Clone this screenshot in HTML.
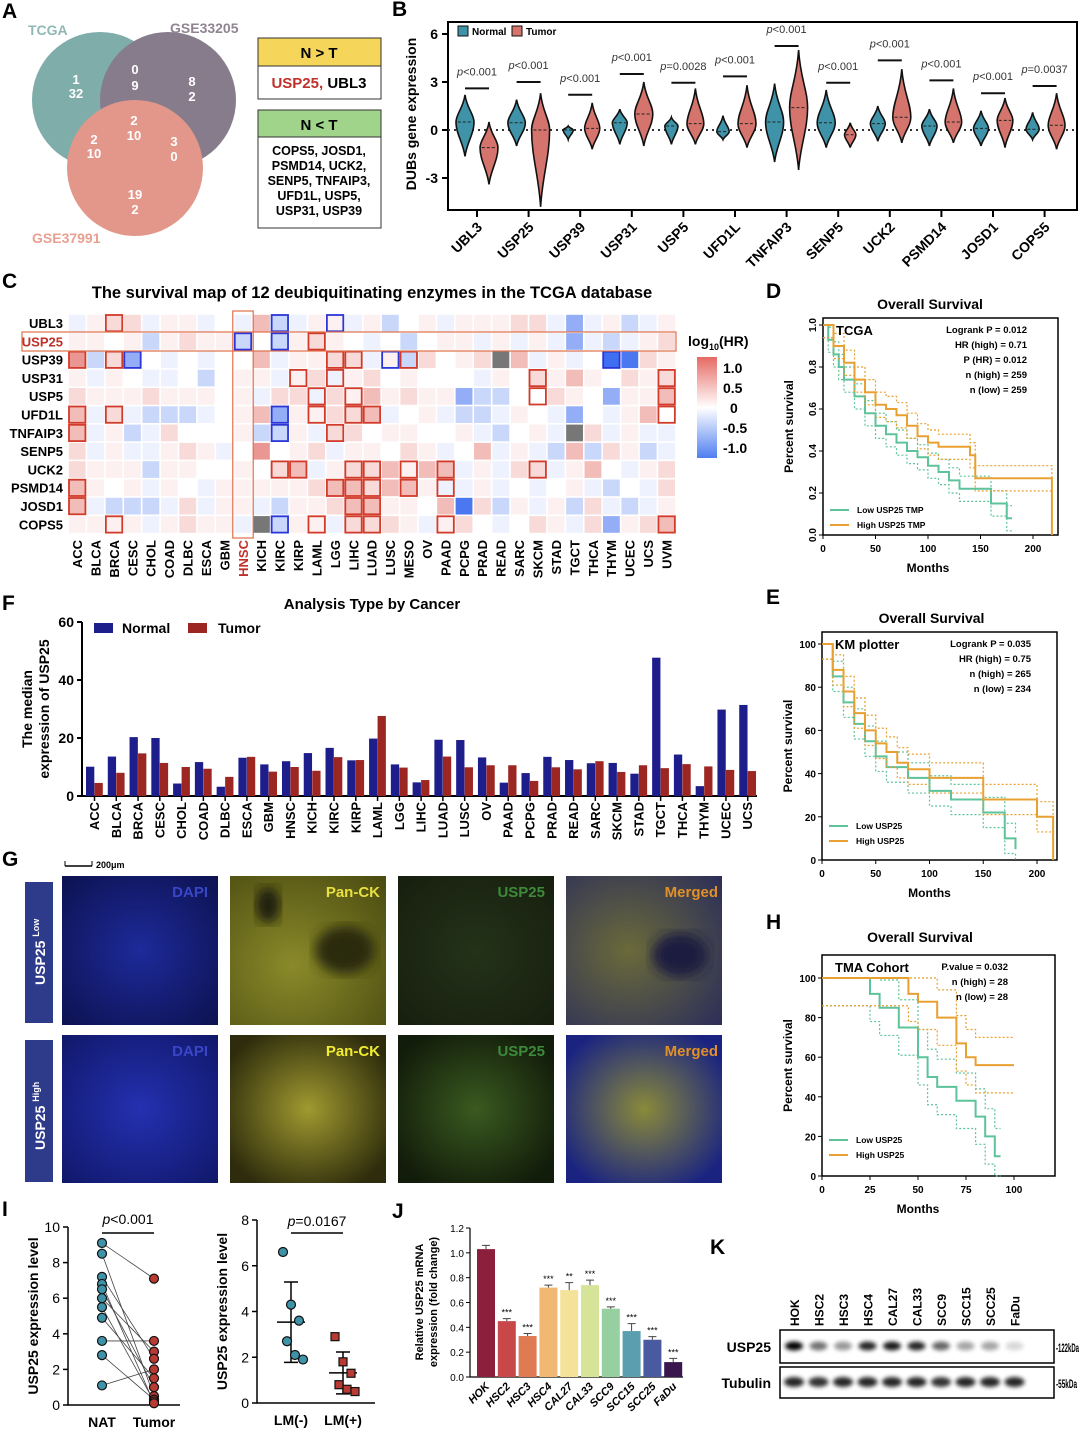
<!DOCTYPE html>
<html><head><meta charset="utf-8"><style>
body{margin:0;background:#fff}
svg{display:block;font-family:"Liberation Sans",Arial,sans-serif}
.pl{font-size:21px;font-weight:bold}
</style></head><body>
<svg id="s" width="1080" height="1429" viewBox="0 0 1080 1429" xmlns="http://www.w3.org/2000/svg">
<defs>
<filter id="bl" x="-50%" y="-50%" width="200%" height="200%"><feGaussianBlur stdDeviation="2.2"/></filter>
<filter id="bl2"><feGaussianBlur stdDeviation="6"/></filter>
<linearGradient id="cbar" x1="0" y1="0" x2="0" y2="1"><stop offset="0" stop-color="#e66a64"/><stop offset="0.5" stop-color="#ffffff"/><stop offset="1" stop-color="#4f7ff0"/></linearGradient>
<radialGradient id="gdapi1" cx="0.5" cy="0.5" r="0.7"><stop offset="0" stop-color="#1d2a9a"/><stop offset="1" stop-color="#0d1250"/></radialGradient>
<radialGradient id="gck1" cx="0.4" cy="0.6" r="0.8"><stop offset="0" stop-color="#8a8a2a"/><stop offset="1" stop-color="#4d4d12"/></radialGradient>
<radialGradient id="gus1" cx="0.5" cy="0.5" r="0.8"><stop offset="0" stop-color="#24321a"/><stop offset="1" stop-color="#141c0c"/></radialGradient>
<radialGradient id="gm1" cx="0.4" cy="0.5" r="0.8"><stop offset="0" stop-color="#6a6a3a"/><stop offset="1" stop-color="#2a2c5a"/></radialGradient>
<radialGradient id="gdapi2" cx="0.5" cy="0.5" r="0.7"><stop offset="0" stop-color="#2430b0"/><stop offset="1" stop-color="#10186a"/></radialGradient>
<radialGradient id="gck2" cx="0.5" cy="0.5" r="0.6"><stop offset="0" stop-color="#a09a30"/><stop offset="1" stop-color="#2e2c0c"/></radialGradient>
<radialGradient id="gus2" cx="0.5" cy="0.5" r="0.6"><stop offset="0" stop-color="#3a5a20"/><stop offset="1" stop-color="#121c0a"/></radialGradient>
<radialGradient id="gm2" cx="0.5" cy="0.5" r="0.6"><stop offset="0" stop-color="#8a8a3a"/><stop offset="1" stop-color="#1a2480"/></radialGradient>
</defs>

<!-- Panel A -->
<text class="pl" x="2" y="18">A</text>
<g opacity="0.72">
<circle cx="100" cy="100" r="68" fill="#4f8e8a"/>
<circle cx="168" cy="100" r="68" fill="#5a4a60"/>
<circle cx="135" cy="168" r="68" fill="#d9705f"/>
</g>
<g font-size="13" font-weight="bold" fill="#fff" text-anchor="middle">
<text x="76" y="84">1</text><text x="76" y="98">32</text>
<text x="135" y="74">0</text><text x="135" y="90">9</text>
<text x="192" y="86">8</text><text x="192" y="101">2</text>
<text x="94" y="144">2</text><text x="94" y="158">10</text>
<text x="134" y="125">2</text><text x="134" y="140">10</text>
<text x="174" y="146">3</text><text x="174" y="161">0</text>
<text x="135" y="199">19</text><text x="135" y="214">2</text>
</g>
<text x="28" y="35" font-size="14" font-weight="bold" fill="#8fb8b6">TCGA</text>
<text x="170" y="33" font-size="14" font-weight="bold" fill="#8f8590">GSE33205</text>
<text x="32" y="243" font-size="14" font-weight="bold" fill="#e8a092">GSE37991</text>
<g>
<rect x="258" y="38" width="123" height="28" fill="#f5d55a" stroke="#333"/>
<text x="319" y="58" font-size="15" font-weight="bold" text-anchor="middle">N &gt; T</text>
<rect x="258" y="66" width="123" height="33" fill="#fff" stroke="#333"/>
<text x="319" y="88" font-size="15" font-weight="bold" text-anchor="middle"><tspan fill="#c0302a">USP25,</tspan> UBL3</text>
</g>
<g>
<rect x="258" y="110" width="123" height="27" fill="#9fd48a" stroke="#333"/>
<text x="319" y="130" font-size="15" font-weight="bold" text-anchor="middle">N &lt; T</text>
<rect x="258" y="137" width="123" height="91" fill="#fff" stroke="#333"/>
<g font-size="12.5" font-weight="bold" text-anchor="middle">
<text x="319" y="155">COPS5, JOSD1,</text><text x="319" y="170">PSMD14, UCK2,</text>
<text x="319" y="185">SENP5, TNFAIP3,</text><text x="319" y="200">UFD1L, USP5,</text>
<text x="319" y="215">USP31, USP39</text></g>
</g>

<!-- Panel labels -->
<text class="pl" x="392" y="16">B</text>
<text class="pl" x="2" y="288">C</text>
<text class="pl" x="766" y="298">D</text>
<text class="pl" x="766" y="604">E</text>
<text class="pl" x="2" y="610">F</text>
<text class="pl" x="2" y="866">G</text>
<text class="pl" x="766" y="929">H</text>
<text class="pl" x="2" y="1216">I</text>
<text class="pl" x="392" y="1218">J</text>
<text class="pl" x="710" y="1254">K</text>

<!-- Panel G images -->
<g>
<line x1="65" y1="866" x2="92" y2="866" stroke="#000" stroke-width="1.5"/><line x1="65" y1="861" x2="65" y2="866" stroke="#000"/><line x1="92" y1="861" x2="92" y2="866" stroke="#000"/>
<text x="96" y="868" font-size="9" font-weight="bold">200μm</text>
<rect x="25" y="882" width="28" height="141" fill="#2e3a8a"/>
<text transform="translate(45,985) rotate(-90)" font-size="14" font-weight="bold" fill="#fff">USP25 <tspan font-size="9" dy="-6">Low</tspan></text>
<rect x="25" y="1040" width="28" height="142" fill="#2e3a8a"/>
<text transform="translate(45,1150) rotate(-90)" font-size="14" font-weight="bold" fill="#fff">USP25 <tspan font-size="9" dy="-6">High</tspan></text>
<rect x="62" y="876" width="156" height="149" fill="url(#gdapi1)"/>
<rect x="230" y="876" width="156" height="149" fill="url(#gck1)"/>
<ellipse cx="268" cy="905" rx="12" ry="18" fill="#1a1a08" filter="url(#bl2)"/>
<ellipse cx="345" cy="950" rx="30" ry="24" fill="#2a2a0a" filter="url(#bl2)"/>
<rect x="398" y="876" width="156" height="149" fill="url(#gus1)"/>
<rect x="566" y="876" width="156" height="149" fill="url(#gm1)"/>
<ellipse cx="680" cy="955" rx="28" ry="22" fill="#1a1a40" filter="url(#bl2)"/>
<rect x="62" y="1035" width="156" height="148" fill="url(#gdapi2)"/>
<rect x="230" y="1035" width="156" height="148" fill="url(#gck2)"/>
<rect x="398" y="1035" width="156" height="148" fill="url(#gus2)"/>
<rect x="566" y="1035" width="156" height="148" fill="url(#gm2)"/>
<g font-size="15" font-weight="bold" text-anchor="end">
<text x="208" y="897" fill="#3a46c8">DAPI</text><text x="380" y="897" fill="#e8e040">Pan-CK</text><text x="545" y="897" fill="#3c8a3a">USP25</text><text x="718" y="897" fill="#e0902a">Merged</text>
<text x="208" y="1056" fill="#3a46c8">DAPI</text><text x="380" y="1056" fill="#f0ec30">Pan-CK</text><text x="545" y="1056" fill="#3c8a3a">USP25</text><text x="718" y="1056" fill="#e0902a">Merged</text>
</g>
</g>

<!-- Panel K blot -->
<g>
<rect x="780" y="1330" width="274" height="33" fill="#fff" stroke="#000" stroke-width="1.5"/>
<rect x="780" y="1367" width="274" height="31" fill="#fff" stroke="#000" stroke-width="1.5"/>
<text x="771" y="1352" font-size="14" font-weight="bold" text-anchor="end">USP25</text>
<text x="771" y="1388" font-size="14" font-weight="bold" text-anchor="end">Tubulin</text>
<text x="1056" y="1352" font-size="12" font-weight="bold" textLength="23" lengthAdjust="spacingAndGlyphs">-122kDa</text>
<text x="1056" y="1388" font-size="12" font-weight="bold" textLength="21" lengthAdjust="spacingAndGlyphs">-55kDa</text>
<g id="blot"></g>
</g>
</svg>
<script>
const S=document.getElementById('s');
const NS='http://www.w3.org/2000/svg';
function mk(tag,at,p){const e=document.createElementNS(NS,tag);for(const k in at)e.setAttribute(k,at[k]);(p||S).appendChild(e);return e;}
function tx(x,y,t,at,p){const e=mk('text',Object.assign({x:x,y:y},at||{}),p);e.textContent=t;return e;}

/* ================= Panel B violins ================= */
const vGenes=['UBL3','USP25','USP39','USP31','USP5','UFD1L','TNFAIP3','SENP5','UCK2','PSMD14','JOSD1','COPS5'];
const vNMed=[0.5,0.45,0,0.45,0.25,-0.1,0.5,0.45,0.4,0.25,0.1,0.05];
const vNLo=[-1.65,-1,-0.6,-0.9,-0.9,-0.6,-2,-1.1,-0.7,-1,-1,-0.6];
const vNHi=[2.2,1.9,0.25,1.3,0.8,0.9,2.9,2.5,1.5,1.3,1.2,1.1];
const vTMed=[-1.1,0,0.1,1.0,0.4,0.4,1.4,-0.3,0.8,0.5,0.6,0.3];
const vTLo=[-3.4,-4.8,-1.2,-1,-0.9,-1.1,-2.5,-1.1,-0.8,-0.8,-1.1,-1.2];
const vTHi=[0.5,2.3,1.7,3.0,2.6,2.8,5.0,0.45,3.8,2.6,2.0,2.3];
const vP=['p<0.001','p<0.001','p<0.001','p<0.001','p=0.0028','p<0.001','p<0.001','p<0.001','p<0.001','p<0.001','p<0.001','p=0.0037'];
const vPY=[2.6,3.0,2.2,3.5,2.95,3.35,5.25,2.95,4.35,3.1,2.3,2.75];
const vTicks=[6,3,0,-3];
const bX0=448,bX1=1077,bY0=22,bY1=210;
const by=v=>130-v*16;
const bx=i=>477+i*51.6;
const gB=mk('g',{});


const bfr=mk('rect',{x:bX0,y:bY0,width:bX1-bX0,height:bY1-bY0,fill:'none',stroke:'#000','stroke-width':2},gB);


const zl=mk('line',{x1:bX0,x2:bX1,y1:by(0),y2:by(0),stroke:'#333','stroke-width':2,'stroke-dasharray':'2,4'},gB);


vTicks.forEach(t=>{
  const l=mk('line',{x1:bX0-6,x2:bX0,y1:by(t),y2:by(t),stroke:'#000','stroke-width':2},gB);
  
  
  const e=tx(bX0-10,by(t)+5,String(t),{'font-size':14,'font-weight':'bold','text-anchor':'end'},gB);
  
  
});
const byl=tx(0,0,'DUBs gene expression',{'font-size':14,'font-weight':'bold','text-anchor':'middle',transform:'translate(416,114) rotate(-90)'},gB);


function violin(cx,med,lo,hi,fill,w){
  const yl=by(lo),yh=by(hi),ym=by(med);
  const d=`M${cx},${yh} C${cx+w*0.2},${yh+(ym-yh)*0.5} ${cx+w},${ym-(ym-yh)*0.3} ${cx+w},${ym} C${cx+w},${ym+(yl-ym)*0.35} ${cx+w*0.2},${ym+(yl-ym)*0.6} ${cx},${yl} C${cx-w*0.2},${ym+(yl-ym)*0.6} ${cx-w},${ym+(yl-ym)*0.35} ${cx-w},${ym} C${cx-w},${ym-(ym-yh)*0.3} ${cx-w*0.2},${yh+(ym-yh)*0.5} ${cx},${yh}Z`;
  return mk('path',{d:d,fill:fill,stroke:'#111','stroke-width':1.6},gB);
}
vGenes.forEach((g,i)=>{
  const cx=bx(i);
  const wn=Math.min(9,3.5+(vNHi[i]-vNLo[i])*1.8), wt=Math.min(9,3.5+(vTHi[i]-vTLo[i])*1.4);
  const vn=violin(cx-12,vNMed[i],vNLo[i],vNHi[i],'#3f93a8',wn);
  
  
  const vt=violin(cx+12,vTMed[i],vTLo[i],vTHi[i],'#d4746c',wt);
  
  
  [[cx-12,vNMed[i],wn],[cx+12,vTMed[i],wt]].forEach(a=>{
    const m=mk('line',{x1:a[0]-a[2]*0.8,x2:a[0]+a[2]*0.8,y1:by(a[1]),y2:by(a[1]),stroke:'#222','stroke-width':1,'stroke-dasharray':'3,2'},gB);
    
    
  });
  const pl=mk('line',{x1:cx-12,x2:cx+12,y1:by(vPY[i]),y2:by(vPY[i]),stroke:'#111','stroke-width':2},gB);
  
  
  const pt=tx(cx,by(vPY[i])-13,'',{'font-size':11,'text-anchor':'middle',fill:'#333'},gB);
  
  
  const ts=document.createElementNS(NS,'tspan');ts.setAttribute('font-style','italic');ts.textContent='p';pt.appendChild(ts);
  pt.appendChild(document.createTextNode(vP[i].slice(1)));
  const tk=mk('line',{x1:cx,x2:cx,y1:bY1,y2:bY1+7,stroke:'#000','stroke-width':2},gB);
  
  
  const xl=tx(0,0,g,{'font-size':14,'font-weight':'bold','text-anchor':'end',transform:`translate(${cx+6},${bY1+18}) rotate(-45)`},gB);
  
  
});
const lgN=mk('rect',{x:458,y:26,width:10,height:10,fill:'#3f93a8',stroke:'#111'},gB);


const lgNt=tx(472,35,'Normal',{'font-size':10,'font-weight':'bold'},gB);


const lgT=mk('rect',{x:512,y:26,width:10,height:10,fill:'#d4746c',stroke:'#111'},gB);


const lgTt=tx(526,35,'Tumor',{'font-size':10,'font-weight':'bold'},gB);



/* ================= Panel C heatmap ================= */
const hmRows=['UBL3','USP25','USP39','USP31','USP5','UFD1L','TNFAIP3','SENP5','UCK2','PSMD14','JOSD1','COPS5'];
const hmCols=['ACC','BLCA','BRCA','CESC','CHOL','COAD','DLBC','ESCA','GBM','HNSC','KICH','KIRC','KIRP','LAML','LGG','LIHC','LUAD','LUSC','MESO','OV','PAAD','PCPG','PRAD','READ','SARC','SKCM','STAD','TGCT','THCA','THYM','UCEC','UCS','UVM'];
const hmCodes=[
"D122D11D0D3CD11D1C01D11122DBD1CD1",
"1101C1211C0C1210D0C011D1D1DBDCD12",
"4C2B0D0D003D1122D1C2012G3D1D0DA21",
"1D10DD0C011D12D1201000D1021310212",
"2111211101D22D2131211BCC00210B113",
"3D2DCCCD013B11223D01DCCD10DB0D13",
"3D1CD20001CC1D22011001DC01DG2D1DD",
"2D1DD121D04012D11021D03D1DC3C21CD",
"2111C11001023D1223133D1D22D130D12",
"3101D10D111112332331DD1D0D01DC0D2",
"3DCCCD2D11DC112331103A2C1D1C2DCD1",
"1111D1211DGC11D2221D120D021D2B123"];
const hmBoxes=[[0,2,'r'],[0,11,'b'],[0,14,'b'],[1,9,'b'],[1,11,'b'],[1,13,'r'],
[2,0,'r'],[2,2,'r'],[2,3,'b'],[2,14,'r'],[2,15,'r'],[2,17,'b'],[2,18,'r'],[2,29,'b'],
[3,12,'r'],[3,14,'r'],[3,25,'r'],[3,32,'r'],[4,13,'r'],[4,15,'r'],[4,25,'r'],[4,32,'r'],
[5,0,'r'],[5,2,'r'],[5,11,'b'],[5,13,'r'],[5,15,'r'],[5,16,'r'],[5,32,'r'],
[6,0,'r'],[6,11,'b'],[6,14,'r'],
[8,11,'r'],[8,12,'r'],[8,15,'r'],[8,16,'r'],[8,18,'r'],[8,20,'r'],[8,25,'r'],
[9,0,'r'],[9,14,'r'],[9,15,'r'],[9,16,'r'],[9,18,'r'],[9,20,'r'],
[10,0,'r'],[10,15,'r'],[10,16,'r'],
[11,2,'r'],[11,11,'b'],[11,13,'r'],[11,15,'r'],[11,16,'r'],[11,20,'r'],[11,32,'r']];
const codeVal={A:-1,B:-0.6,C:-0.3,D:-0.1,'0':0,'1':0.1,'2':0.25,'3':0.45,'4':0.7};
const hX0=68,hY0=314,hW=18.42,hH=18.3;
function hcol(v){
  if(v>=0){const t=Math.min(1,v);return `rgb(${Math.round(255-t*30)},${Math.round(255-t*150)},${Math.round(255-t*155)})`;}
  const t=Math.min(1,-v);return `rgb(${Math.round(255-t*180)},${Math.round(255-t*135)},${Math.round(255-t*15)})`;
}
const gC=mk('g',{});


const ct=tx(372,298,'The survival map of 12 deubiquitinating enzymes in the TCGA database',{'font-size':16.5,'font-weight':'bold','text-anchor':'middle'},gC);


hmRows.forEach((r,i)=>{
  const codes=hmCodes[i].padEnd(33,'0');
  hmCols.forEach((c,j)=>{
    const ch=codes[j];
    const fill=ch==='G'?'#777':hcol(codeVal[ch]);
    const cell=mk('rect',{x:hX0+j*hW+0.8,y:hY0+i*hH+0.8,width:hW-1.6,height:hH-1.6,fill:fill},gC);
    
    
  });
  const rl=tx(63,hY0+i*hH+14,r,{'font-size':13,'font-weight':'bold','text-anchor':'end',fill:r==='USP25'?'#c0302a':'#000'},gC);
  
  
});
hmBoxes.forEach(b=>{
  const bx2=mk('rect',{x:hX0+b[1]*hW+1,y:hY0+b[0]*hH+1,width:hW-2,height:hH-2,fill:b[1]===29&&b[0]===2?'#3f6ff0':'none',stroke:b[2]==='r'?'#d23a2a':'#2b36d8','stroke-width':1.8},gC);
  
  
});
hmCols.forEach((c,j)=>{
  const cl=tx(0,0,c,{'font-size':13,'font-weight':'bold','text-anchor':'end',fill:c==='HNSC'?'#c0302a':'#000',transform:`translate(${hX0+j*hW+14},540) rotate(-90)`},gC);
  
  
});
const hr1=mk('rect',{x:22,y:332,width:654,height:19,fill:'none',stroke:'#e0704a','stroke-width':1.2},gC);


const hr2=mk('rect',{x:hX0+9*hW-1,y:311,width:hW+2,height:227,fill:'none',stroke:'#e0704a','stroke-width':1.2},gC);


const cb=mk('rect',{x:697,y:357,width:20,height:101,fill:'url(#cbar)'},gC);


const cbt=tx(688,346,'log',{'font-size':14,'font-weight':'bold'},gC);


const sub=document.createElementNS(NS,'tspan');sub.setAttribute('font-size','9');sub.setAttribute('dy','4');sub.textContent='10';cbt.appendChild(sub);
const rest=document.createElementNS(NS,'tspan');rest.setAttribute('dy','-4');rest.textContent='(HR)';cbt.appendChild(rest);
const cbTicks=['1.0','0.5','0','-0.5','-1.0'];
cbTicks.forEach((t,i)=>{
  const e=tx(t==='0'?730:723,373+i*20,t,{'font-size':14,'font-weight':'bold'},gC);
  
  
});

/* ================= Panel F bars ================= */
const fCats=['ACC','BLCA','BRCA','CESC','CHOL','COAD','DLBC','ESCA','GBM','HNSC','KICH','KIRC','KIRP','LAML','LGG','LIHC','LUAD','LUSC','OV','PAAD','PCPG','PRAD','READ','SARC','SKCM','STAD','TGCT','THCA','THYM','UCEC','UCS'];
const fNormal=[10.1,13.6,20.3,20,4.3,11.7,3.2,13.2,10.9,12,14.8,16.6,12.3,19.8,10.9,4.7,19.4,19.3,13.3,4.6,7.9,13.5,12.4,11.3,11.4,7.7,47.7,14.3,3.4,29.8,31.4];
const fTumor=[4.5,8,14.7,11.4,10,9.4,6.6,13.5,8.4,10,8.7,13.4,12.4,27.6,9.8,5.5,13.6,9.9,10.6,10.6,5.2,9.9,9.2,12,8.3,10.6,9.6,11,10.2,9,8.6];
const fTicks=[0,20,40,60];
const fX0=82,fX1=757,fY0=622,fY1=796;
const fy=v=>fY1-v*(fY1-fY0)/60;
const fgw=(fX1-fX0)/fCats.length;
const gF=mk('g',{});


const ftt=tx(372,609,'Analysis Type by Cancer',{'font-size':15,'font-weight':'bold','text-anchor':'middle'},gF);


const fax=mk('path',{d:`M${fX0},${fY0} V${fY1} H${fX1}`,fill:'none',stroke:'#000','stroke-width':2},gF);


fTicks.forEach(t=>{
  const l=mk('line',{x1:fX0-5,x2:fX0,y1:fy(t),y2:fy(t),stroke:'#000','stroke-width':2},gF);
  
  
  const e=tx(fX0-8,fy(t)+5,String(t),{'font-size':14,'font-weight':'bold','text-anchor':'end'},gF);
  
  
});
const fyl=tx(0,0,'The median',{'font-size':14,'font-weight':'bold','text-anchor':'middle',transform:'translate(32,709) rotate(-90)'},gF);


const fyl2=tx(0,0,'expression of USP25',{'font-size':14,'font-weight':'bold','text-anchor':'middle',transform:'translate(49,709) rotate(-90)'},gF);


fCats.forEach((c,i)=>{
  const x=fX0+4+i*fgw;
  const bn=mk('rect',{x:x,y:fy(fNormal[i]),width:8.3,height:fY1-fy(fNormal[i]),fill:'#1d1d8c'},gF);
  
  
  const bt=mk('rect',{x:x+8.5,y:fy(fTumor[i]),width:8.3,height:fY1-fy(fTumor[i]),fill:'#9c2622'},gF);
  
  
  const tk=mk('line',{x1:x+8.5,x2:x+8.5,y1:fY1,y2:fY1+5,stroke:'#000','stroke-width':1.5},gF);
  
  
  const xl=tx(0,0,c,{'font-size':13,'font-weight':'bold','text-anchor':'end',transform:`translate(${x+13},802) rotate(-90)`},gF);
  
  
});
const fl1=mk('rect',{x:94,y:623,width:19,height:10,fill:'#1d1d8c'},gF);


const fl1t=tx(122,633,'Normal',{'font-size':14,'font-weight':'bold'},gF);


const fl2=mk('rect',{x:188,y:623,width:19,height:10,fill:'#9c2622'},gF);


const fl2t=tx(218,633,'Tumor',{'font-size':14,'font-weight':'bold'},gF);



/* ================= KM plots ================= */
const dLowT=[0,5,10,15,20,30,40,50,60,70,80,90,100,110,120,130,150,160,175,180];
const dLowS=[1,0.93,0.86,0.8,0.74,0.66,0.58,0.52,0.48,0.44,0.4,0.37,0.33,0.3,0.26,0.22,0.22,0.15,0.08,0.08];
const dHighT=[0,10,20,30,40,50,60,70,80,90,100,110,140,145,215,218];
const dHighS=[1,0.9,0.82,0.74,0.68,0.62,0.6,0.57,0.52,0.47,0.44,0.42,0.38,0.27,0.27,0];
const eLowT=[0,10,20,30,40,50,60,80,100,120,150,170,180];
const eLowS=[100,85,73,63,55,48,43,38,32,28,22,10,5];
const eHighT=[0,10,20,30,40,50,60,70,80,100,150,200,215];
const eHighS=[100,88,78,68,60,54,50,45,42,38,28,20,0];
const hLowT=[0,20,25,30,40,50,55,60,70,80,85,90,93];
const hLowS=[100,100,92,85,75,60,50,45,38,30,20,10,10];
const hHighT=[0,40,45,50,60,70,75,80,100];
const hHighS=[100,100,92,88,80,67,60,56,56];
const ciD=0.06, ciE=7, ciH=14;
function km(cfg){
  const g=mk('g',{});
  
  
  const X=v=>cfg.x0+(v-cfg.xmin)*(cfg.x1-cfg.x0)/(cfg.xmax-cfg.xmin);
  const Y=v=>cfg.y1-(v-cfg.ymin)*(cfg.y1-cfg.y0)/(cfg.ymax-cfg.ymin);
  const tt=tx((cfg.x0+cfg.x1)/2+2,cfg.titleY,'Overall Survival',{'font-size':14,'font-weight':'bold','text-anchor':'middle'},g);
  
  
  const fr=mk('rect',{x:cfg.x0,y:cfg.ft,width:cfg.x1+cfg.pad-cfg.x0,height:cfg.y1-cfg.ft,fill:'none',stroke:'#000','stroke-width':1.5},g);
  
  
  cfg.yt.forEach(t=>{
    const l=mk('line',{x1:cfg.x0-4,x2:cfg.x0,y1:Y(t),y2:Y(t),stroke:'#000'},g);
    
    
    const e=tx(0,0,cfg.yfmt(t),{'font-size':10,'font-weight':'bold','text-anchor':'middle',transform:cfg.rot?`translate(${cfg.x0-7},${Y(t)}) rotate(-90)`:`translate(${cfg.x0-6},${Y(t)+4})`},g);
    if(!cfg.rot)e.setAttribute('text-anchor','end');
    
    
  });
  cfg.xt.forEach(t=>{
    const l=mk('line',{x1:X(t),x2:X(t),y1:cfg.y1,y2:cfg.y1+4,stroke:'#000'},g);
    
    
    const e=tx(X(t),cfg.y1+17,String(t),{'font-size':10,'font-weight':'bold','text-anchor':'middle'},g);
    
    
  });
  const xl=tx((cfg.x0+cfg.x1)/2,cfg.y1+37,'Months',{'font-size':12,'font-weight':'bold','text-anchor':'middle'},g);
  
  
  const yl=tx(0,0,'Percent survival',{'font-size':12,'font-weight':'bold','text-anchor':'middle',transform:`translate(${cfg.x0-30},${(cfg.ft+cfg.y1)/2}) rotate(-90)`},g);
  
  
  function step(T,Sv,off){
    let d=`M${X(T[0])},${Y(Math.min(cfg.ymax,Sv[0]+off))}`;
    for(let i=1;i<T.length;i++){d+=` H${X(T[i])} V${Y(Math.max(cfg.ymin,Math.min(cfg.ymax,Sv[i]+off)))}`;}
    return d;
  }
  [[cfg.lowT,cfg.lowS,'#5cc39a','low'],[cfg.highT,cfg.highS,'#e8a030','high']].forEach(s=>{
    [cfg.ci,-cfg.ci].forEach(o=>{
      const c=mk('path',{d:step(s[0],s[1],o),fill:'none',stroke:s[2],'stroke-width':1.2,'stroke-dasharray':'2,2'},g);
      
      
    });
    const p=mk('path',{d:step(s[0],s[1],0),fill:'none',stroke:s[2],'stroke-width':2},g);
    
    
  });
  const lb=tx(cfg.x0+13,cfg.ft+17,cfg.label,{'font-size':13,'font-weight':'bold'},g);
  
  
  cfg.stats.forEach((s,i)=>{
    const e=tx(cfg.x1-6,cfg.ft+15+i*15,s,{'font-size':9.5,'font-weight':'bold','text-anchor':'end'},g);
    
    
  });
  [[cfg.lowLab,'#5cc39a',0],[cfg.highLab,'#e8a030',1]].forEach(l=>{
    const ln=mk('line',{x1:cfg.x0+7,x2:cfg.x0+26,y1:cfg.legY+l[2]*15,y2:cfg.legY+l[2]*15,stroke:l[1],'stroke-width':2},g);
    
    
    const t=tx(cfg.x0+34,cfg.legY+3+l[2]*15,l[0],{'font-size':8.5,'font-weight':'bold'},g);
    
    
  });
}
km({name:'km-tcga',x0:823,x1:1033,xmin:0,xmax:200,y0:325,y1:535,ymin:0,ymax:1,ft:318,pad:25,titleY:309,
 yt:[0,0.2,0.4,0.6,0.8,1],yfmt:t=>t.toFixed(1),rot:true,xt:[0,50,100,150,200],ci:ciD,
 lowT:dLowT,lowS:dLowS,highT:dHighT,highS:dHighS,label:'TCGA',
 stats:['Logrank P = 0.012','HR (high) = 0.71','P (HR) = 0.012','n (high) = 259','n (low) = 259'],
 lowLab:'Low USP25 TMP',highLab:'High USP25 TMP',legY:510});
km({name:'km-kmplotter',x0:822,x1:1037,xmin:0,xmax:200,y0:644,y1:860,ymin:0,ymax:100,ft:632,pad:20,titleY:623,
 yt:[0,20,40,60,80,100],yfmt:t=>String(t),rot:false,xt:[0,50,100,150,200],ci:ciE,
 lowT:eLowT,lowS:eLowS,highT:eHighT,highS:eHighS,label:'KM plotter',
 stats:['Logrank P = 0.035','HR (high) = 0.75','n (high) = 265','n (low) = 234'],
 lowLab:'Low USP25',highLab:'High USP25',legY:826});
km({name:'km-tma',x0:822,x1:1014,xmin:0,xmax:100,y0:978,y1:1176,ymin:0,ymax:100,ft:955,pad:41,titleY:942,
 yt:[0,20,40,60,80,100],yfmt:t=>String(t),rot:false,xt:[0,25,50,75,100],ci:ciH,
 lowT:hLowT,lowS:hLowS,highT:hHighT,highS:hHighS,label:'TMA Cohort',
 stats:['P.value = 0.032','n (high) = 28','n (low) = 28'],
 lowLab:'Low USP25',highLab:'High USP25',legY:1140});

/* ================= Panel I ================= */
const iNat=[9.1,8.5,7.2,6.8,6.5,6.0,5.5,4.9,3.6,2.8,1.1];
const iTumor=[7.1,3.6,3.0,2.6,2.0,1.5,1.0,0.5,0.3,0.2,0.1];
const iLmNeg=[6.6,4.3,3.6,2.7,2.1,1.9];
const iLmPos=[2.9,1.8,1.3,0.8,0.6,0.5];
const iTicksL=[0,2,4,6,8,10];
const iTicksR=[0,2,4,6,8];
const gI=mk('g',{});


function axisI(x0,yTop,yBot,max,ticks,xEnd,title){
  const Y=v=>yBot-v*(yBot-yTop)/max;
  const a=mk('path',{d:`M${x0},${yTop} V${yBot} H${xEnd}`,fill:'none',stroke:'#000','stroke-width':1.5},gI);
  
  
  ticks.forEach(t=>{
    const l=mk('line',{x1:x0-5,x2:x0,y1:Y(t),y2:Y(t),stroke:'#000','stroke-width':1.5},gI);
    
    
    const e=tx(x0-8,Y(t)+5,String(t),{'font-size':14,'text-anchor':'end'},gI);
    
    
  });
  const yl=tx(0,0,title,{'font-size':14,'font-weight':'bold','text-anchor':'middle',transform:`translate(${x0-30},${(yTop+yBot)/2}) rotate(-90)`},gI);
  
  
  return Y;
}
const YL=axisI(68,1227,1405,10,iTicksL,180,'USP25 expression level');
iNat.forEach((v,i)=>{
  const ln=mk('line',{x1:102,y1:YL(v),x2:154,y2:YL(iTumor[(i*7)%iTumor.length]),stroke:'#444','stroke-width':0.8},gI);
  
  
});
iNat.forEach(v=>{
  const c=mk('circle',{cx:102,cy:YL(v),r:4.5,fill:'#3f93a8',stroke:'#111','stroke-width':1.2},gI);
  
  
});
iTumor.forEach(v=>{
  const c=mk('circle',{cx:154,cy:YL(v),r:4.5,fill:'#b83a32',stroke:'#111','stroke-width':1.2},gI);
  
  
});
[['NAT',102],['Tumor',154]].forEach(a=>{
  const e=tx(a[1],1427,a[0],{'font-size':14,'font-weight':'bold','text-anchor':'middle'},gI);
  
  
});
const ib1=mk('line',{x1:102,x2:154,y1:1233,y2:1233,stroke:'#000','stroke-width':1.5},gI);


const ip1=tx(128,1224,'',{'font-size':14,'text-anchor':'middle'},gI);


ip1.innerHTML='<tspan font-style="italic">p</tspan>&lt;0.001';
const YR=axisI(257,1220,1403,8,iTicksR,375,'USP25 expression level');
const mean=a=>a.reduce((s,v)=>s+v,0)/a.length;
const sd=a=>{const m=mean(a);return Math.sqrt(a.reduce((s,v)=>s+(v-m)*(v-m),0)/(a.length-1));};
[[iLmNeg,291,'#3f93a8','circle','lm-neg'],[iLmPos,343,'#b83a32','rect','lm-pos']].forEach(s=>{
  const m=mean(s[0]),d=sd(s[0]);
  const e1=mk('path',{d:`M${s[1]-14},${YR(m)} H${s[1]+14} M${s[1]},${YR(m+d)} V${YR(Math.max(0,m-d))} M${s[1]-7},${YR(m+d)} H${s[1]+7} M${s[1]-7},${YR(Math.max(0,m-d))} H${s[1]+7}`,stroke:'#000','stroke-width':1.5,fill:'none'},gI);
  
  
  s[0].forEach((v,i)=>{
    const ox=[-8,0,8,-4,4,12][i];
    const p=s[3]==='circle'?mk('circle',{cx:s[1]+ox,cy:YR(v),r:4.5,fill:s[2],stroke:'#111','stroke-width':1.2},gI):mk('rect',{x:s[1]+ox-4,y:YR(v)-4,width:8,height:8,fill:s[2],stroke:'#111','stroke-width':1.2},gI);
    
    
  });
});
[['LM(-)',291],['LM(+)',343]].forEach(a=>{
  const e=tx(a[1],1425,a[0],{'font-size':14,'font-weight':'bold','text-anchor':'middle'},gI);
  
  
});
const ib2=mk('line',{x1:291,x2:343,y1:1233,y2:1233,stroke:'#000','stroke-width':1.5},gI);


const ip2=tx(317,1226,'',{'font-size':14,'text-anchor':'middle'},gI);


ip2.innerHTML='<tspan font-style="italic">p</tspan>=0.0167';

/* ================= Panel J ================= */
const jCats=['HOK','HSC2','HSC3','HSC4','CAL27','CAL33','SCC9','SCC15','SCC25','FaDu'];
const jVals=[1.03,0.45,0.33,0.72,0.70,0.74,0.55,0.37,0.30,0.12];
const jErr=[0.03,0.02,0.02,0.02,0.06,0.04,0.015,0.06,0.025,0.03];
const jSig=['','***','***','***','**','***','***','***','***','***'];
const jTicks=[0,0.2,0.4,0.6,0.8,1.0,1.2];
const jCols=['#8c1f3c','#c8484a','#e07a52','#f0b872','#f5e29a','#d6e49a','#96cfa0','#5a9eb0','#4a5aa0','#3a164f'];
const jX0=470,jY0=1228,jY1=1377;
const jy=v=>jY1-v*(jY1-jY0)/1.2;
const gJ=mk('g',{});


const jax=mk('path',{d:`M${jX0},${jY0} V${jY1} H${jX0+213}`,fill:'none',stroke:'#000','stroke-width':1.2},gJ);


jTicks.forEach(t=>{
  const l=mk('line',{x1:jX0-4,x2:jX0,y1:jy(t),y2:jy(t),stroke:'#000'},gJ);
  
  
  const e=tx(jX0-6,jy(t)+4,t.toFixed(1),{'font-size':10,'text-anchor':'end'},gJ);
  
  
});
const jyl=tx(0,0,'Relative USP25 mRNA',{'font-size':11,'font-weight':'bold','text-anchor':'middle',transform:'translate(423,1302) rotate(-90)'},gJ);


const jyl2=tx(0,0,'expression (fold change)',{'font-size':11,'font-weight':'bold','text-anchor':'middle',transform:'translate(437,1302) rotate(-90)'},gJ);


jCats.forEach((c,i)=>{
  const x=jX0+7+i*20.8;
  const b=mk('rect',{x:x,y:jy(jVals[i]),width:18,height:jY1-jy(jVals[i]),fill:jCols[i]},gJ);
  
  
  const er=mk('path',{d:`M${x+9},${jy(jVals[i])} V${jy(jVals[i]+jErr[i])} M${x+5},${jy(jVals[i]+jErr[i])} H${x+13}`,stroke:'#444',fill:'none'},gJ);
  
  
  if(jSig[i]){
    const s=tx(x+9,jy(jVals[i]+jErr[i])-3,jSig[i],{'font-size':9,'text-anchor':'middle'},gJ);
    
    
  }
  const xl=tx(0,0,c,{'font-size':11,'font-weight':'bold','font-style':'italic','text-anchor':'end',transform:`translate(${x+13},${jY1+10}) rotate(-45)`},gJ);
  
  
});

/* ================= Panel K blot ================= */
const kLanes=['HOK','HSC2','HSC3','HSC4','CAL27','CAL33','SCC9','SCC15','SCC25','FaDu'];
const kUsp=[1,0.55,0.4,0.85,0.9,0.85,0.6,0.35,0.35,0.15];
const kTub=[0.85,0.8,0.85,0.85,0.85,0.85,0.8,0.85,0.85,0.85];
const gK=document.getElementById('blot');
kLanes.forEach((l,i)=>{
  const cx=794+i*24.5;
  const t=tx(0,0,l,{'font-size':12,'font-weight':'bold',transform:`translate(${cx+5},1326) rotate(-90)`},gK);
  
  
  const b=mk('ellipse',{cx:cx,cy:1346,rx:9,ry:4.5,fill:'#000',opacity:kUsp[i],filter:'url(#bl)'},gK);
  
  
  const b2=mk('ellipse',{cx:cx,cy:1382,rx:10,ry:5,fill:'#000',opacity:kTub[i],filter:'url(#bl)'},gK);
  
  
});
</script>
</body></html>
